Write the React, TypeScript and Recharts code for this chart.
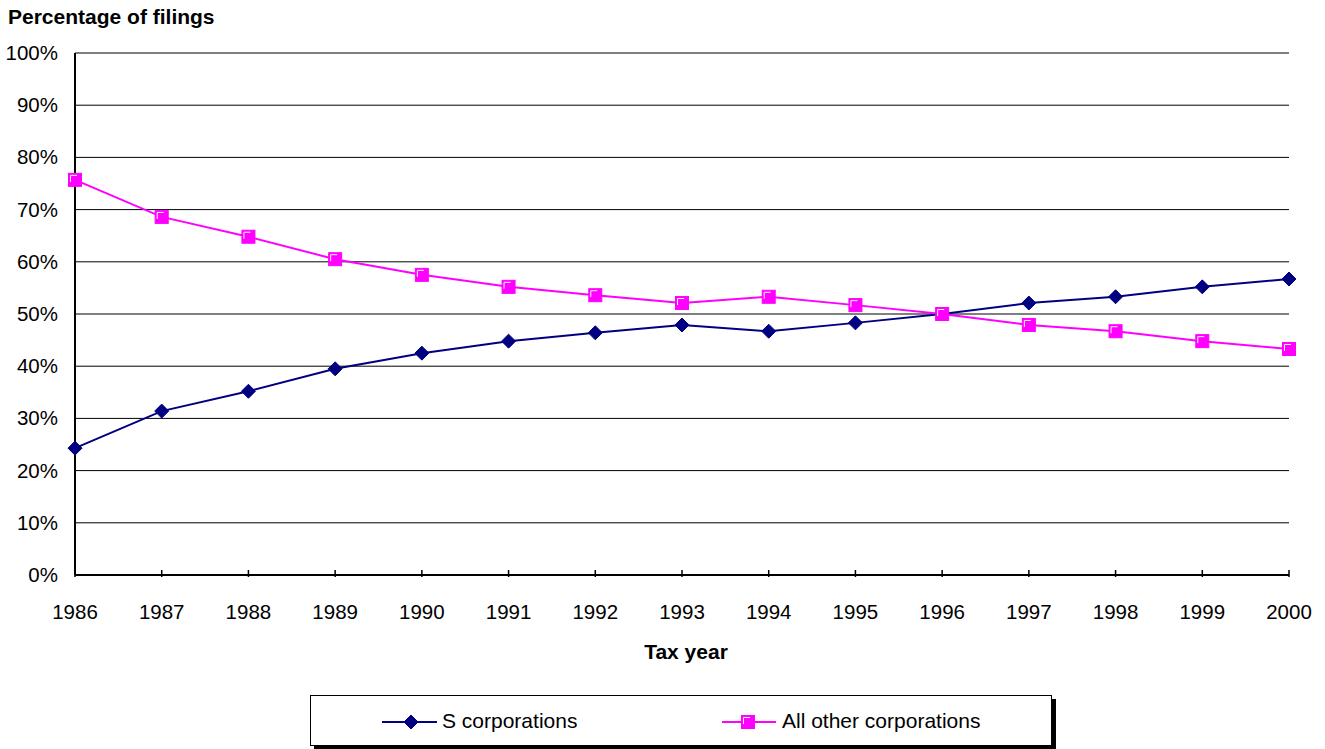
import React from 'react';
import { LineChart, Line, XAxis, YAxis, CartesianGrid } from 'recharts';

const years = [
    '1986', '1987', '1988', '1989', '1990', '1991', '1992', '1993',
    '1994', '1995', '1996', '1997', '1998', '1999', '2000',
];
const sCorps = [24.3, 31.4, 35.2, 39.5, 42.5, 44.8, 46.4, 47.9, 46.7, 48.3, 50.0, 52.1, 53.3, 55.2, 56.7];
const otherCorps = [75.7, 68.6, 64.8, 60.5, 57.5, 55.2, 53.6, 52.1, 53.3, 51.7, 50.0, 47.9, 46.7, 44.8, 43.3];
const yTicks = [0, 10, 20, 30, 40, 50, 60, 70, 80, 90, 100];

const FONT = '"Liberation Sans", Arial, sans-serif';
const NAVY = '#000080';
const MAGENTA = '#FF00FF';

const data = years.map((y, i) => ({ year: y, s: sCorps[i], other: otherCorps[i] }));

const Diamond = (props: any) => {
    const { cx, cy } = props;
    if (cx == null || cy == null) return null;
    const r = 7;
    return (
        <path
            d={`M${cx},${cy - r}L${cx + r},${cy}L${cx},${cy + r}L${cx - r},${cy}Z`}
            fill={NAVY}
            stroke={NAVY}
        />
    );
};

const Square = (props: any) => {
    const { cx, cy } = props;
    if (cx == null || cy == null) return null;
    const r = 6.5;
    return (
        <g>
            <rect x={cx - r} y={cy - r} width={2 * r} height={2 * r} fill={MAGENTA} stroke={MAGENTA} />
            <path
                d={`M${cx - r + 2},${cy + 2}L${cx - r + 2},${cy - r + 2}L${cx + 2},${cy - r + 2}`}
                stroke="#fff"
                strokeWidth={1}
                fill="none"
            />
        </g>
    );
};

const XTick = (props: any) => {
    const { x, y, payload } = props;
    return (
        <g>
            <line x1={x} y1={y} x2={x} y2={y - 7} stroke="#000" strokeWidth={1.5} />
            <text x={x} y={y + 42} textAnchor="middle" fontSize={20.5} fill="#000" fontFamily={FONT}>
                {payload.value}
            </text>
        </g>
    );
};

const YTick = (props: any) => {
    const { x, y, payload } = props;
    return (
        <text x={x - 15} y={y + 7} textAnchor="end" fontSize={20.5} fill="#000" fontFamily={FONT}>
            {payload.value}%
        </text>
    );
};

const App = () => {
    return (
        <div style={{ position: 'absolute', left: 0, top: 0, width: 1325, height: 749, fontFamily: FONT, background: '#fff' }}>
            <div style={{ position: 'absolute', left: 8, top: 5, fontSize: 21, fontWeight: 'bold', whiteSpace: 'nowrap' }}>
                Percentage of filings
            </div>
            <LineChart
                width={1325}
                height={749}
                data={data}
                margin={{ top: 53, right: 36, left: 0, bottom: 124 }}
            >
                <CartesianGrid vertical={false} stroke="#000" strokeWidth={1} />
                <XAxis
                    dataKey="year"
                    height={50}
                    tickLine={false}
                    tickSize={0}
                    tick={<XTick />}
                    axisLine={{ stroke: '#000', strokeWidth: 2 }}
                    interval={0}
                />
                <YAxis
                    width={75}
                    domain={[0, 100]}
                    ticks={yTicks}
                    tickLine={false}
                    tickSize={0}
                    tick={<YTick />}
                    axisLine={{ stroke: '#000', strokeWidth: 2 }}
                    interval={0}
                />
                <Line
                    dataKey="s"
                    stroke={NAVY}
                    strokeWidth={2}
                    dot={<Diamond />}
                    activeDot={false}
                    isAnimationActive={false}
                />
                <Line
                    dataKey="other"
                    stroke={MAGENTA}
                    strokeWidth={2}
                    dot={<Square />}
                    activeDot={false}
                    isAnimationActive={false}
                />
            </LineChart>
            <div
                style={{
                    position: 'absolute',
                    left: 586,
                    top: 640,
                    width: 200,
                    textAlign: 'center',
                    fontSize: 21,
                    fontWeight: 'bold',
                }}
            >
                Tax year
            </div>
            <div
                style={{
                    position: 'absolute',
                    left: 310,
                    top: 695,
                    width: 740,
                    height: 49,
                    border: '1px solid #000',
                    boxShadow: '4px 4px 0 #000',
                    background: '#fff',
                    fontSize: 21,
                }}
            >
                <svg width={60} height={20} style={{ position: 'absolute', left: 71, top: 16 }}>
                    <line x1={0} y1={10} x2={55} y2={10} stroke={NAVY} strokeWidth={2} />
                    <Diamond cx={29} cy={10} />
                </svg>
                <span style={{ position: 'absolute', left: 131, top: 13, whiteSpace: 'nowrap' }}>S corporations</span>
                <svg width={60} height={20} style={{ position: 'absolute', left: 411, top: 16 }}>
                    <line x1={0} y1={10} x2={54} y2={10} stroke={MAGENTA} strokeWidth={2} />
                    <Square cx={26} cy={10} />
                </svg>
                <span style={{ position: 'absolute', left: 471, top: 13, whiteSpace: 'nowrap' }}>All other corporations</span>
            </div>
        </div>
    );
};

export default App;
